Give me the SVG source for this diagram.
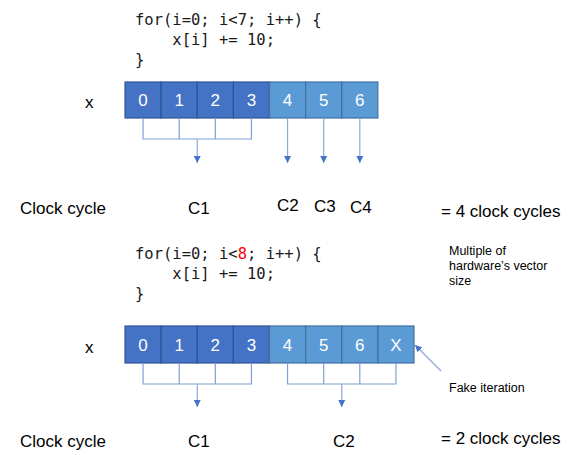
<svg xmlns="http://www.w3.org/2000/svg" width="575" height="455" viewBox="0 0 575 455">
<defs>
<style>
.code{font-family:"DejaVu Sans Mono","Liberation Mono",monospace;font-size:15.5px;fill:#1a1a1a}
.lbl{font-family:"Liberation Sans",Arial,sans-serif;font-size:17px;fill:#000}
.sm{font-family:"Liberation Sans",Arial,sans-serif;font-size:12.5px;fill:#000}
.num{font-family:"Liberation Sans",Arial,sans-serif;font-size:17px;fill:#fff;text-anchor:middle}
.dk{fill:#4472C4;stroke:#2F5597;stroke-width:1.2}
.lt{fill:#5B9BD5;stroke:#41719C;stroke-width:1.2}
.ln{fill:none;stroke:#7F9FD8;stroke-width:1.2}
.ar{fill:none;stroke:#8EA9DB;stroke-width:1.2;marker-end:url(#ah)}
</style>
<marker id="ah" markerUnits="userSpaceOnUse" markerWidth="8" markerHeight="8" viewBox="0 0 8 8" refX="7" refY="4" orient="auto">
<path d="M0,0.5 L7,4 L0,7.5 Z" fill="#4472C4"/>
</marker>
</defs>

<g id="code1">
<text class="code" x="135" y="25" xml:space="preserve">for(i=0; i&lt;7; i++) {</text>
<text class="code" x="135" y="45" xml:space="preserve">    x[i] += 10;</text>
<text class="code" x="135" y="65">}</text>
</g>

<g id="array1">
<text class="lbl" x="85" y="108">x</text>
<rect class="dk" x="125" y="82" width="36.125" height="36"/>
<rect class="dk" x="161.125" y="82" width="36.125" height="36"/>
<rect class="dk" x="197.25" y="82" width="36.125" height="36"/>
<rect class="dk" x="233.375" y="82" width="36.125" height="36"/>
<rect class="lt" x="269.5" y="82" width="36.125" height="36"/>
<rect class="lt" x="305.625" y="82" width="36.125" height="36"/>
<rect class="lt" x="341.75" y="82" width="36.125" height="36"/>
<text class="num" x="143.06" y="106">0</text>
<text class="num" x="179.19" y="106">1</text>
<text class="num" x="215.31" y="106">2</text>
<text class="num" x="251.44" y="106">3</text>
<text class="num" x="287.56" y="106">4</text>
<text class="num" x="323.69" y="106">5</text>
<text class="num" x="359.81" y="106">6</text>
</g>

<g id="connectors1">
<path class="ln" d="M143.06,118 V139 H251.44 V118 M179.19,118 V139 M215.31,118 V139"/>
<line class="ar" x1="197.25" y1="139" x2="197.25" y2="163"/>
<line class="ar" x1="287.56" y1="118" x2="287.56" y2="163"/>
<line class="ar" x1="323.69" y1="118" x2="323.69" y2="163"/>
<line class="ar" x1="359.81" y1="118" x2="359.81" y2="163"/>
</g>

<g id="cycles1">
<text class="lbl" x="20" y="214">Clock cycle</text>
<text class="lbl" x="188" y="214">C1</text>
<text class="lbl" x="277" y="211">C2</text>
<text class="lbl" x="314" y="212">C3</text>
<text class="lbl" x="350" y="213">C4</text>
<text class="lbl" x="441" y="217">= 4 clock cycles</text>
</g>

<g id="code2">
<text class="code" x="135" y="259" xml:space="preserve">for(i=0; i&lt;<tspan fill="#FF0000">8</tspan>; i++) {</text>
<text class="code" x="135" y="279" xml:space="preserve">    x[i] += 10;</text>
<text class="code" x="135" y="299">}</text>
</g>

<g id="note">
<text class="sm" x="449" y="255">Multiple of</text>
<text class="sm" x="449" y="270">hardware’s vector</text>
<text class="sm" x="449" y="285">size</text>
</g>

<g id="array2">
<text class="lbl" x="85" y="353">x</text>
<rect class="dk" x="125" y="326" width="36.125" height="37"/>
<rect class="dk" x="161.125" y="326" width="36.125" height="37"/>
<rect class="dk" x="197.25" y="326" width="36.125" height="37"/>
<rect class="dk" x="233.375" y="326" width="36.125" height="37"/>
<rect class="lt" x="269.5" y="326" width="36.125" height="37"/>
<rect class="lt" x="305.625" y="326" width="36.125" height="37"/>
<rect class="lt" x="341.75" y="326" width="36.125" height="37"/>
<rect class="lt" x="377.875" y="326" width="36.125" height="37"/>
<text class="num" x="143.06" y="351">0</text>
<text class="num" x="179.19" y="351">1</text>
<text class="num" x="215.31" y="351">2</text>
<text class="num" x="251.44" y="351">3</text>
<text class="num" x="287.56" y="351">4</text>
<text class="num" x="323.69" y="351">5</text>
<text class="num" x="359.81" y="351">6</text>
<text class="num" x="395.94" y="351">X</text>
</g>

<g id="connectors2">
<path class="ln" d="M143.06,363 V384 H251.44 V363 M179.19,363 V384 M215.31,363 V384"/>
<path class="ln" d="M287.56,363 V384 H395.94 V363 M323.69,363 V384 M359.81,363 V384"/>
<line class="ar" x1="197.25" y1="384" x2="197.25" y2="407"/>
<line class="ar" x1="341.75" y1="384" x2="341.75" y2="407"/>
<line class="ar" x1="441" y1="371" x2="415" y2="345"/>
</g>

<g id="fake">
<text class="sm" x="449" y="392">Fake iteration</text>
</g>

<g id="cycles2">
<text class="lbl" x="20" y="447">Clock cycle</text>
<text class="lbl" x="188" y="447">C1</text>
<text class="lbl" x="333" y="447">C2</text>
<text class="lbl" x="441" y="444">= 2 clock cycles</text>
</g>
</svg>
